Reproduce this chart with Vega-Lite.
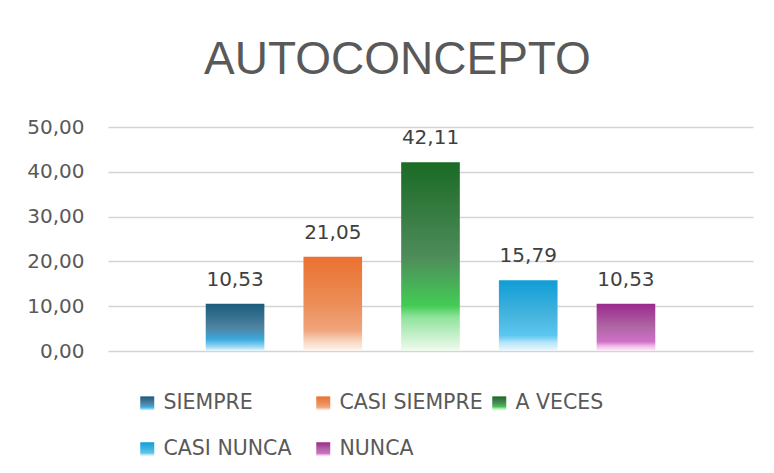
{
  "$schema": "https://vega.github.io/schema/vega-lite/v6.json",
  "width": 645,
  "height": 224,
  "autosize": {"type": "none"},
  "padding": {"left": 108, "top": 127, "right": 21, "bottom": 122},
  "background": "white",
  "title": {
    "text": "AUTOCONCEPTO",
    "font": "Liberation Sans",
    "fontSize": 46,
    "fontWeight": "normal",
    "color": "#595959",
    "anchor": "middle",
    "frame": "group",
    "dx": -33,
    "offset": 33
  },
  "config": {
    "locale": {"number": {"decimal": ",", "thousands": ".", "grouping": [3], "currency": ["", " €"]}},
    "view": {"stroke": null}
  },
  "data": {
    "values": [
      {"categoria": "SIEMPRE", "porcentaje": 10.53},
      {"categoria": "CASI SIEMPRE", "porcentaje": 21.05},
      {"categoria": "A VECES", "porcentaje": 42.11},
      {"categoria": "CASI NUNCA", "porcentaje": 15.79},
      {"categoria": "NUNCA", "porcentaje": 10.53}
    ]
  },
  "encoding": {
    "x": {
      "field": "categoria",
      "type": "nominal",
      "sort": null,
      "scale": {"paddingInner": 0.4, "paddingOuter": 1.05},
      "axis": null
    },
    "y": {
      "field": "porcentaje",
      "type": "quantitative",
      "scale": {"domain": [0, 50]},
      "axis": {
        "title": null,
        "values": [0, 10, 20, 30, 40, 50],
        "format": ".2f",
        "domain": false,
        "ticks": false,
        "labelPadding": 24,
        "labelFont": "DejaVu Sans",
        "labelFontSize": 20,
        "labelColor": "#595959",
        "gridColor": "#d4d4d4",
        "gridWidth": 1.5
      }
    }
  },
  "layer": [
    {
      "mark": {"type": "bar"},
      "encoding": {
        "color": {
          "field": "categoria",
          "type": "nominal",
          "sort": null,
          "scale": {
            "domain": ["SIEMPRE", "CASI SIEMPRE", "A VECES", "CASI NUNCA", "NUNCA"],
            "range": [
              {"expr": "{gradient: 'linear', x1: 0, y1: 0, x2: 0, y2: 1, stops: [{offset: 0, color: '#1a5b7c'}, {offset: 0.5, color: '#4f82a0'}, {offset: 0.75, color: '#3aa9dd'}, {offset: 0.9, color: '#92d4f3'}, {offset: 1, color: '#eef9fe'}]}"},
              {"expr": "{gradient: 'linear', x1: 0, y1: 0, x2: 0, y2: 1, stops: [{offset: 0, color: '#ea7130'}, {offset: 0.5, color: '#ec8e58'}, {offset: 0.78, color: '#f0a57c'}, {offset: 0.9, color: '#f8d6c2'}, {offset: 1, color: '#fff6f1'}]}"},
              {"expr": "{gradient: 'linear', x1: 0, y1: 0, x2: 0, y2: 1, stops: [{offset: 0, color: '#1a6a24'}, {offset: 0.5, color: '#4e8c5a'}, {offset: 0.76, color: '#43cc55'}, {offset: 0.82, color: '#8fe39b'}, {offset: 1, color: '#f1fbf1'}]}"},
              {"expr": "{gradient: 'linear', x1: 0, y1: 0, x2: 0, y2: 1, stops: [{offset: 0, color: '#109dd6'}, {offset: 0.5, color: '#46b4de'}, {offset: 0.78, color: '#5cc7f1'}, {offset: 0.88, color: '#b5e5f8'}, {offset: 1, color: '#eff9fe'}]}"},
              {"expr": "{gradient: 'linear', x1: 0, y1: 0, x2: 0, y2: 1, stops: [{offset: 0, color: '#9a2a8c'}, {offset: 0.5, color: '#b067a6'}, {offset: 0.8, color: '#d070c8'}, {offset: 0.9, color: '#f0bee9'}, {offset: 1, color: '#fdf1fb'}]}"}
            ]
          },
          "legend": {
            "title": null,
            "orient": "none",
            "legendX": 29,
            "legendY": 266,
            "direction": "horizontal",
            "columns": 3,
            "gridAlign": "all",
            "symbolType": "square",
            "symbolSize": 196,
            "symbolStrokeWidth": 0,
            "labelFont": "DejaVu Sans",
            "labelFontSize": 20.5,
            "labelColor": "#595959",
            "labelOffset": 6,
            "labelLimit": 300,
            "columnPadding": 6,
            "rowPadding": 25,
            "padding": 0
          }
        }
      }
    },
    {
      "mark": {
        "type": "text",
        "baseline": "alphabetic",
        "dy": -18,
        "font": "DejaVu Sans",
        "fontSize": 20,
        "color": "#404040"
      },
      "encoding": {
        "text": {"field": "porcentaje", "type": "quantitative", "format": ".2f"}
      }
    }
  ]
}
